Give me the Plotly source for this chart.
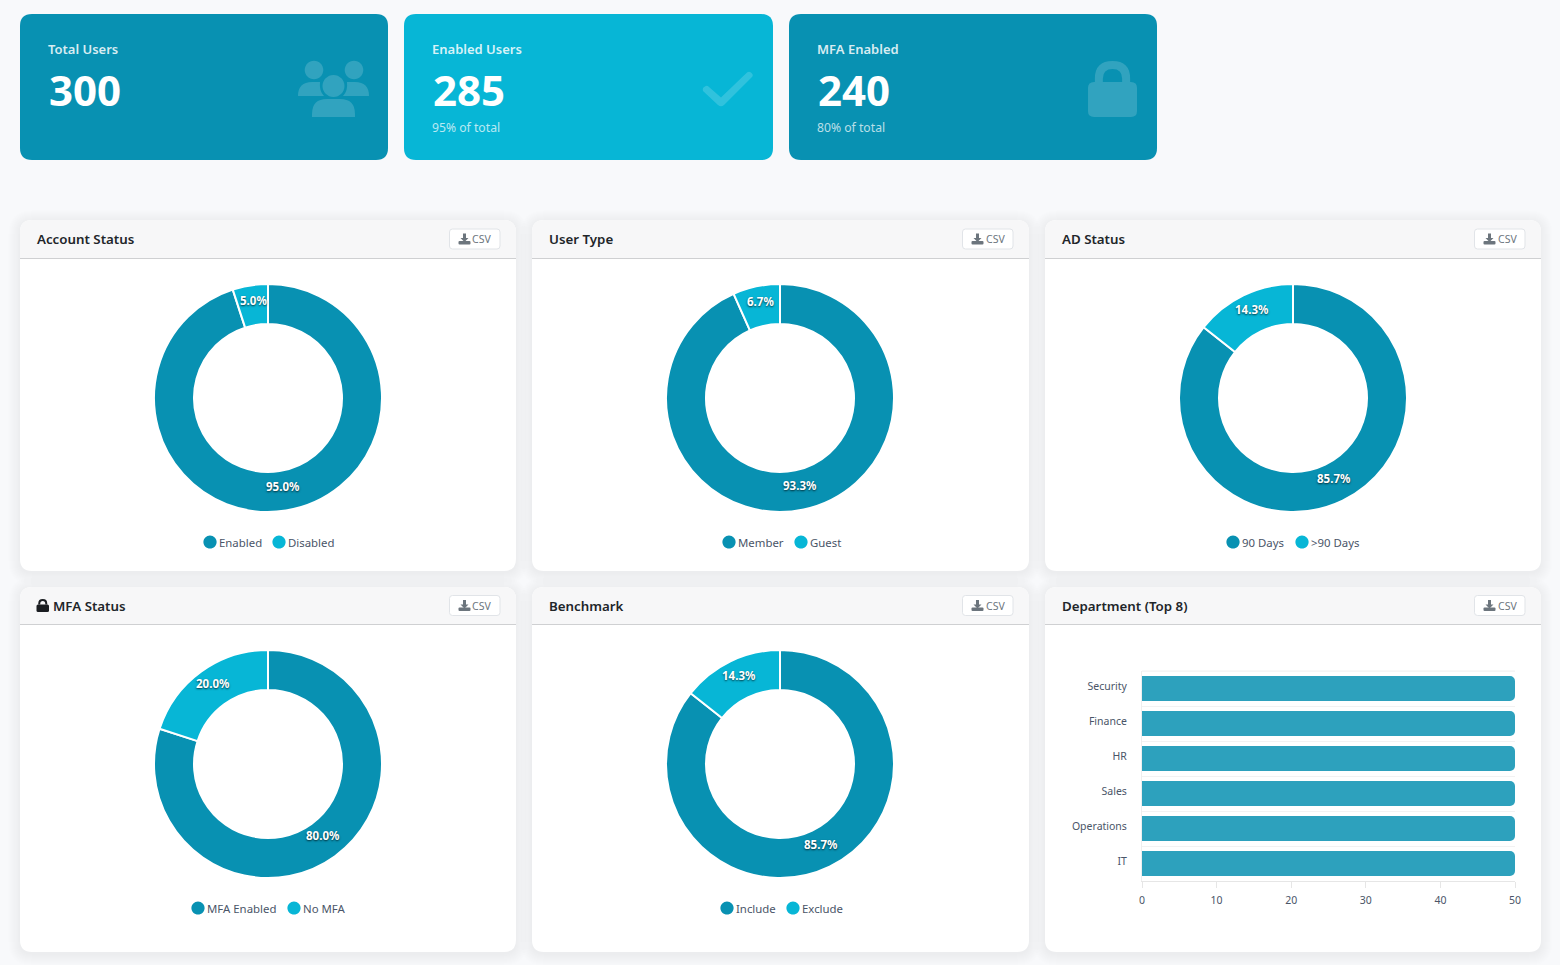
import math
import plotly.graph_objects as go

# KPI tiles
kpi_titles = ["Total Users", "Enabled Users", "MFA Enabled"]
kpi_values = ["300", "285", "240"]
kpi_notes = ["", "95% of total", "80% of total"]

# Donut panels
panel_titles = ["Account Status", "User Type", "AD Status", "MFA Status", "Benchmark"]
donut_labels = [
    ["Enabled", "Disabled"],
    ["Member", "Guest"],
    ["90 Days", ">90 Days"],
    ["MFA Enabled", "No MFA"],
    ["Include", "Exclude"],
]
donut_values = [
    [285, 15],
    [280, 20],
    [257, 43],
    [240, 60],
    [257, 43],
]

# Department bars
bar_title = "Department (Top 8)"
departments = ["Security", "Finance", "HR", "Sales", "Operations", "IT"]
department_users = [50, 50, 50, 50, 50, 50]
bar_ticks = [0, 10, 20, 30, 40, 50]

W, H = 1560, 965
DARK, CYAN = "#0891b2", "#07b6d6"
FONT = "Noto Sans"


def fx(x):
    return x / W


def fy(y):
    return 1 - y / H


def P(x, y):
    return f"{fx(x):.5f},{fy(y):.5f}"


def rounded(x0, y0, x1, y1, r, bottom=True):
    rb = r if bottom else 0
    return (
        f"M{P(x0 + r, y0)} L{P(x1 - r, y0)} Q{P(x1, y0)} {P(x1, y0 + r)} "
        f"L{P(x1, y1 - rb)} Q{P(x1, y1)} {P(x1 - rb, y1)} "
        f"L{P(x0 + rb, y1)} Q{P(x0, y1)} {P(x0, y1 - rb)} "
        f"L{P(x0, y0 + r)} Q{P(x0, y0)} {P(x0 + r, y0)} Z"
    )


def disc(cx, cy, r):
    k = 0.5523 * r
    return (
        f"M{P(cx - r, cy)} C{P(cx - r, cy - k)} {P(cx - k, cy - r)} {P(cx, cy - r)} "
        f"C{P(cx + k, cy - r)} {P(cx + r, cy - k)} {P(cx + r, cy)} "
        f"C{P(cx + r, cy + k)} {P(cx + k, cy + r)} {P(cx, cy + r)} "
        f"C{P(cx - k, cy + r)} {P(cx - r, cy + k)} {P(cx - r, cy)} Z"
    )


shapes, notes = [], []


def fill(path, color, opacity=1.0):
    shapes.append(dict(type="path", path=path, xref="paper", yref="paper", fillcolor=color,
                       opacity=opacity, line=dict(width=0), layer="below"))


def label(x, y, text, size, color, weight=400, anchor="left", shadow=None):
    font = dict(family=FONT, size=size, color=color, weight=weight)
    if shadow:
        font["shadow"] = shadow
    notes.append(dict(x=fx(x), y=fy(y), xref="paper", yref="paper", text=text, showarrow=False,
                      xanchor=anchor, yanchor="middle", font=font, borderpad=0, borderwidth=0))


def users_icon():
    c, a = "#ffffff", 0.17
    fill(disc(314, 70, 9.3), c, a)
    fill(disc(354, 70, 9.3), c, a)
    fill(disc(333.5, 86, 11), c, a)
    fill(f"M{P(298, 96)} Q{P(298, 82)} {P(312, 82)} L{P(320, 82)} Q{P(319, 91)} {P(324, 96)} Z", c, a)
    fill(f"M{P(369, 96)} Q{P(369, 82)} {P(355, 82)} L{P(347, 82)} Q{P(348, 91)} {P(343, 96)} Z", c, a)
    fill(f"M{P(312, 117)} L{P(312, 114)} Q{P(312, 99)} {P(327, 99)} L{P(340, 99)} "
         f"Q{P(355, 99)} {P(355, 114)} L{P(355, 117)} Z", c, a)


def check_icon():
    fill(f"M{P(703, 91)} Q{P(702, 88)} {P(705, 86.5)} Q{P(707, 85)} {P(709, 87)} L{P(721, 97.5)} "
         f"L{P(747, 72.5)} Q{P(749, 71)} {P(751, 72.5)} Q{P(754, 75)} {P(752, 77)} "
         f"L{P(724, 105)} Q{P(721, 107.5)} {P(718, 105)} Z", "#ffffff", 0.17)


def lock_outline(x0, y0, x1, y1, body_top, bw, r, color, opacity=1.0):
    cx = (x0 + x1) / 2
    so = (x1 - x0) * 0.36
    si = so - bw
    top = y0
    fill(f"M{P(cx - so, body_top)} L{P(cx - so, top + so)} Q{P(cx - so, top)} {P(cx, top)} "
         f"Q{P(cx + so, top)} {P(cx + so, top + so)} L{P(cx + so, body_top)} L{P(cx + si, body_top)} "
         f"L{P(cx + si, top + so)} Q{P(cx + si, top + bw)} {P(cx, top + bw)} "
         f"Q{P(cx - si, top + bw)} {P(cx - si, top + so)} L{P(cx - si, body_top)} Z", color, opacity)
    fill(rounded(x0, body_top, x1, y1, r), color, opacity)


def download_icon(x, y):
    c = "#6c757d"
    fill(f"M{P(x + 4, y)} L{P(x + 7, y)} L{P(x + 7, y + 4.5)} L{P(x + 9.5, y + 4.5)} L{P(x + 5.5, y + 8.5)} "
         f"L{P(x + 1.5, y + 4.5)} L{P(x + 4, y + 4.5)} Z", c)
    fill(rounded(x - 0.5, y + 7.5, x + 11.5, y + 11, 1), c)


# Page background
fill(rounded(0, 0, W, H, 0.01), "#f8f9fb")

# KPI tiles
kpi_boxes = [(20, 388, DARK), (404, 773, CYAN), (789, 1157, DARK)]
for (x0, x1, col), title, value, note in zip(kpi_boxes, kpi_titles, kpi_values, kpi_notes):
    fill(rounded(x0, 14, x1, 160, 12), col)
    label(x0 + 28, 49, title, 13, "rgba(255,255,255,0.85)", 600)
    label(x0 + 28.5, 89, value, 42, "#ffffff", 700)
    if note:
        label(x0 + 28, 127.5, note, 12.2, "rgba(255,255,255,0.72)")
users_icon()
check_icon()
lock_outline(1088, 61, 1137, 117, 82, 8, 6, "#ffffff", 0.17)

# Panels: soft shadow, white body, grey header, CSV button
panel_columns = [(20, 516), (532, 1029), (1045, 1541)]
panel_rows = [(220, 571, 258), (587, 952, 624)]
all_titles = panel_titles + [bar_title]
for idx, title in enumerate(all_titles):
    x0, x1 = panel_columns[idx % 3]
    y0, y1, yh = panel_rows[idx // 3]
    for s in range(12, 0, -1):
        fill(rounded(x0 - s, y0 - s + 2, x1 + s, y1 + s + 2, 12 + s), "#000000", 0.005)
    fill(rounded(x0, y0, x1, y1, 12), "#ffffff")
    fill(rounded(x0, y0, x1, yh, 12, bottom=False), "#f7f7f8")
    fill(rounded(x0, yh, x1, yh + 1, 0.01), "#cfd0d2")
    ty = (y0 + yh) / 2
    tx = x0 + 16.5
    if title == "MFA Status":
        lock_outline(x0 + 16.5, ty - 6.5, x0 + 29, ty + 6.5, ty - 1, 2, 1.5, "#1a1d21")
        tx = x0 + 33
    label(tx, ty, title, 13.3, "#212529", 600)
    bx1 = x1 - 16
    bx0 = bx1 - 50.5
    shapes.append(dict(type="path", path=rounded(bx0, ty - 10, bx1, ty + 10, 3), xref="paper", yref="paper",
                       fillcolor="#ffffff", line=dict(color="#e1e4e8", width=1), layer="below"))
    download_icon(bx0 + 9.5, ty - 5.5)
    label(bx0 + 23, ty, "CSV", 10.5, "#6c757d")

# Top rule of the bar plot area
fill(rounded(1142, 670.5, 1515, 671.7, 0.01), "#f2f2f2")

# Donut traces with value labels placed at each slice's mid-angle
traces = []
centers = [(268, 398), (780, 398), (1293, 398), (268, 764), (780, 764)]
legend_y = [542, 542, 542, 908, 908]
legend_x = [(210, 279), (729, 801), (1233, 1302), (198, 294), (727, 793)]
R_OUT, R_IN = 114, 74
for (cx, cy), labels, vals, ly, lx in zip(centers, donut_labels, donut_values, legend_y, legend_x):
    traces.append(go.Pie(
        labels=labels, values=vals, hole=R_IN / R_OUT, sort=False, direction="clockwise", rotation=0,
        marker=dict(colors=[DARK, CYAN], line=dict(color="#ffffff", width=2)),
        textinfo="none", showlegend=False, hoverinfo="label+percent",
        domain=dict(x=[fx(cx - R_OUT), fx(cx + R_OUT)], y=[fy(cy + R_OUT), fy(cy - R_OUT)]),
    ))
    total = sum(vals)
    start = 0.0
    for v in vals:
        mid = (start + v / 2) / total * 2 * math.pi
        start += v
        rm = (R_OUT + R_IN) / 2
        label(cx + rm * math.sin(mid), cy - rm * math.cos(mid) - 4.3, f"{v / total * 100:.1f}%", 11.5, "#ffffff",
              700, anchor="center", shadow="0px 1px 2px rgba(0,0,0,0.7)")
    for name, colour, x in zip(labels, [DARK, CYAN], lx):
        fill(disc(x, ly, 6.6), colour)
        label(x + 9.3, ly, name, 11.4, "#4a5568")

# Department bar chart
traces.append(go.Bar(
    y=departments, x=department_users, orientation="h", width=0.71,
    marker=dict(color="rgba(8,145,178,0.85)", cornerradius=5, line=dict(width=0)),
    xaxis="x", yaxis="y", showlegend=False,
))

fig = go.Figure(traces)
fig.update_layout(
    width=W, height=H, margin=dict(l=0, r=0, t=0, b=0, autoexpand=False), autosize=False,
    paper_bgcolor="#f8f9fb", plot_bgcolor="rgba(0,0,0,0)",
    font=dict(family=FONT), shapes=shapes, annotations=notes,
    xaxis=dict(domain=[fx(1142), fx(1515)], range=[0, 50], tickvals=bar_ticks, showgrid=False, zeroline=False,
               ticks="outside", ticklen=6, tickcolor="#e6e6e6", tickwidth=1, ticklabelstandoff=3,
               showline=True, linecolor="#e6e6e6", linewidth=1,
               tickfont=dict(family=FONT, size=10.5, color="#4a5568")),
    yaxis=dict(domain=[fy(881), fy(671)], autorange="reversed", type="category", tickson="boundaries",
               showgrid=True, gridcolor="#f2f2f2", gridwidth=1, zeroline=False, ticks="", ticklabelstandoff=12,
               ticklabelshift=2,
               showline=True, linecolor="#eeeeee", linewidth=1, mirror=False,
               tickfont=dict(family=FONT, size=10.5, color="#4a5568")),
)
fig.write_html("out.html", config=dict(displayModeBar=False))
